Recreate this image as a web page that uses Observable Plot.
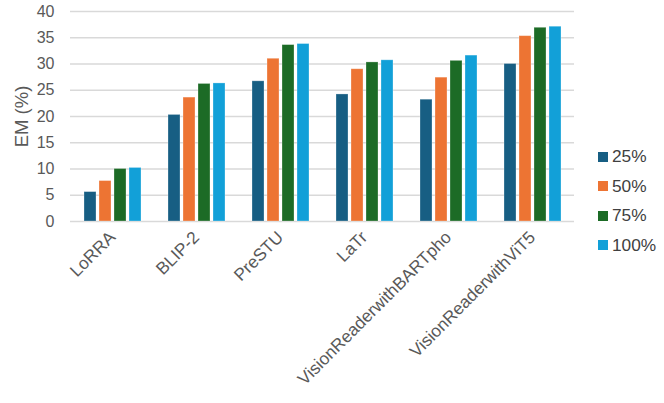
<!DOCTYPE html>
<html>
<head>
<meta charset="utf-8">
<script src="https://cdn.jsdelivr.net/npm/d3@7"></script>
<script src="https://cdn.jsdelivr.net/npm/@observablehq/plot@0.6"></script>
<style>
  body { margin: 0; background: #fff; font-family: "Liberation Sans", Arial, sans-serif; }
  #wrap { position: relative; width: 664px; height: 403px; }
  #legend { position: absolute; left: 598px; top: 142px; color: #404040; font-size: 17.3px; }
  #legend .row { display: flex; align-items: center; height: 29.5px; }
  #legend .sw { width: 10px; height: 10px; margin-right: 4px; }
  g[aria-label="y-axis label"] text { font-size: 18.5px; }
</style>
</head>
<body>
<div id="wrap"><div id="legend"></div></div>
<script>
const models = ["LoRRA", "BLIP-2", "PreSTU", "LaTr", "VisionReaderwithBARTpho", "VisionReaderwithViT5"];
const shares = ["25%", "50%", "75%", "100%"];
const em25  = [5.6, 20.3, 26.7, 24.2, 23.2, 30.0];
const em50  = [7.7, 23.6, 31.0, 29.0, 27.4, 35.3];
const em75  = [10.0, 26.2, 33.6, 30.3, 30.6, 36.9];
const em100 = [10.2, 26.3, 33.8, 30.7, 31.6, 37.1];
const yTicks = [0, 5, 10, 15, 20, 25, 30, 35, 40];
const colors = ["#175e83", "#ed7433", "#1c6b26", "#12a0d8"];

const series = [em25, em50, em75, em100];
const data = [];
models.forEach((m, i) => shares.forEach((s, j) => data.push({model: m, share: s, value: series[j][i]})));

const chart = Plot.plot({
  width: 664,
  height: 403,
  marginLeft: 69,
  marginRight: 90,
  marginTop: 11,
  marginBottom: 182,
  style: {fontFamily: "'Liberation Sans', Arial, sans-serif", color: "#595959", background: "#fff"},
  fx: {domain: models, padding: 0},
  x: {domain: shares, paddingInner: 0.2, paddingOuter: 0.85, axis: null},
  y: {domain: [0, 40]},
  color: {domain: shares, range: colors},
  marks: [
    Plot.gridY(yTicks, {stroke: "#d9d9d9", strokeOpacity: 1, strokeWidth: 1.3}),
    Plot.barY(data, {fx: "model", x: "share", y: "value", fill: "share",
      stroke: "#ffffff", strokeOpacity: 0.35, strokeWidth: 0.8}),
    Plot.axisY(yTicks, {tickSize: 0, tickPadding: 16, fontSize: 16, fill: "#595959",
      label: "EM (%)", labelAnchor: "center", labelArrow: "none", labelOffset: 56}),
    Plot.axisFx({anchor: "bottom", tickRotate: -45, tickSize: 0, tickPadding: 13, dx: 0,
      fontSize: 17.3, fill: "#595959", label: null})
  ]
});
document.getElementById("wrap").prepend(chart);

const legend = document.getElementById("legend");
shares.forEach((s, j) => {
  const row = document.createElement("div");
  row.className = "row";
  const sw = document.createElement("span");
  sw.className = "sw";
  sw.style.background = colors[j];
  const t = document.createElement("span");
  t.textContent = s;
  row.append(sw, t);
  legend.append(row);
});
</script>
</body>
</html>
